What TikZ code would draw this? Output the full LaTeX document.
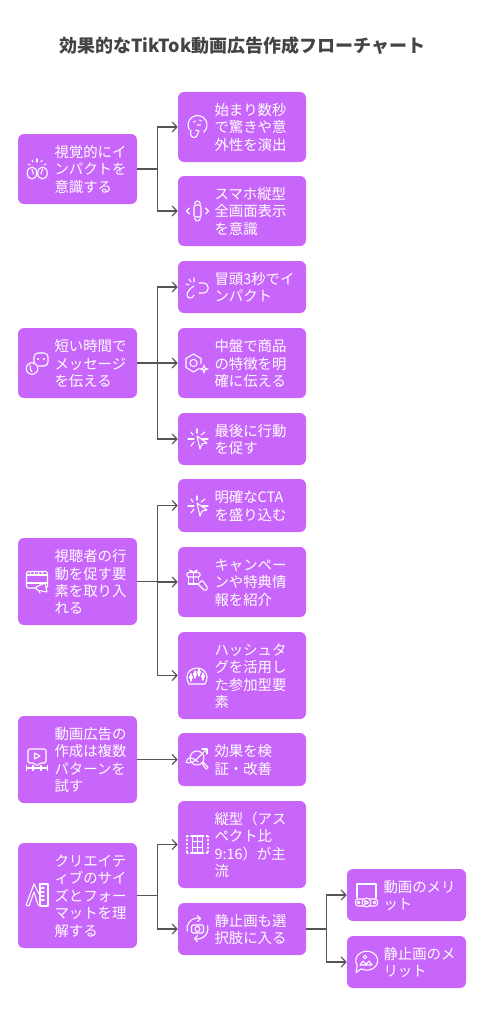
\documentclass[tikz,border=0pt]{standalone}
\usepackage{fontspec}
\setmainfont{Noto Sans CJK JP}
\usetikzlibrary{arrows.meta,calc,positioning}
\definecolor{BoxPurple}{HTML}{C866FB}
\definecolor{LineGray}{HTML}{555555}
\definecolor{TitleGray}{HTML}{444444}
\tikzset{
  flowbox/.style={fill=BoxPurple,rounded corners=4.5pt,inner sep=0pt},
  boxtext/.style={anchor=west,align=left,inner sep=0pt,text=white,
    font=\fontsize{10.8}{13.1}\selectfont},
  flowline/.style={LineGray,line width=0.9pt,-{Straight Barb[length=3.6pt,width=7.6pt]}},
  iconline/.style={white,line width=0.8pt,line cap=round,line join=round}
}

\begin{document}
\begin{tikzpicture}[x=0.75pt,y=-0.75pt]
    \useasboundingbox (0,0) rectangle (484,1024);
    \node[font=\fontsize{13.5}{16}\selectfont\bfseries,text=TitleGray] (title) at (242.3,45.7)
      {効果的なTikTok動画広告作成フローチャート};

    % boxes: name, x from/to, y from/to, text
    \foreach \nm/\xa/\xb/\ya/\yb/\lab in {
      sight/18/137/134/204/{視覚的にイ\\ンパクトを\\意識する},
      short/18/137/328/398/{短い時間で\\メッセージ\\を伝える},
      viewer/18/137/538/625/{視聴者の行\\動を促す要\\素を取り入\\れる},
      multi/18/137/716/803/{動画広告の\\作成は複数\\パターンを\\試す},
      size/18/137/843/948/{クリエイテ\\ィブのサイ\\ズとフォー\\マットを理\\解する},
      first/178/306/92/162/{始まり数秒\\で驚きや意\\外性を演出},
      phone/178/306/176/246/{スマホ縦型\\全画面表示\\を意識},
      open/178/306/261/313/{冒頭3秒でイ\\ンパクト},
      middle/178/306/328/398/{中盤で商品\\の特徴を明\\確に伝える},
      last/178/306/413/465/{最後に行動\\を促す},
      cta/178/306/479/532/{明確なCTA\\を盛り込む},
      campaign/178/306/547/617/{キャンペー\\ンや特典情\\報を紹介},
      hashtag/178/306/632/719/{ハッシュタ\\グを活用し\\た参加型要\\素},
      verify/178/306/733/786/{効果を検\\証・改善},
      tall/178/306/801/888/{縦型（アス\\ペクト比\\9:16）が主\\流},
      still/178/306/903/955/{静止画も選\\択肢に入る},
      movgood/347/466/869/921/{動画のメリ\\ット},
      stillgood/347/466/936/988/{静止画のメ\\リット}} {
      \node[flowbox,minimum width={(\xb-\xa)*0.75pt},minimum height={(\yb-\ya)*0.75pt}]
        (\nm) at ({(\xa+\xb)/2},{(\ya+\yb)/2}) {};
      \node[boxtext] (\nm-text) at ([xshift=27.4pt,yshift=-0.4pt]\nm.west) {\lab};
    }

    % connectors
    \foreach \from/\to in {sight/first,sight/phone,short/open,short/middle,short/last,
      viewer/cta,viewer/campaign,viewer/hashtag,multi/verify,size/tall,size/still,
      still/movgood,still/stillgood} {
      \draw[flowline] (\from.east) -- ++(20,0) |- (\to.west);
    }

    % icons, one scope each, centred in px
    \begin{scope}[shift={(37,170)}]
      \draw[iconline] (-5,3) ellipse [x radius=4.8,y radius=6];
      \draw[iconline] (5.5,3) ellipse [x radius=4.8,y radius=6];
      \draw[iconline] (-5,-1) -- (-3.5,4) (5.5,-1) -- (4,4);
      \foreach \xr/\yr/\xs/\ys in {0/-11/0/-8,-5/-10/-4/-8,5/-10/4/-8,-9/-6/-7/-5,9/-6/7/-5}
        \draw[iconline] (\xr,\yr) -- (\xs,\ys);
    \end{scope}
    \begin{scope}[shift={(197.5,127)}]
      \draw[iconline] (-8.2,2.75) arc (150:410:9.5);
      \draw[iconline] (-6.5,3) -- (-7,7) arc (180:0:3.5) -- (1.5,4) -- (-2,3);
      \draw[iconline] (-4,-5) -- (-2,-6) (2,-7) -- (4,-6) (0,-2) -- (3,-2);
    \end{scope}
    \begin{scope}[shift={(197.5,211)}]
      \draw[iconline,rounded corners=1.5pt] (-3.5,-6) rectangle (3.5,6);
      \draw[iconline] (-3,-7) .. controls (-2,-11) and (2,-11) .. (3,-7);
      \draw[iconline] (-3,7) .. controls (-2,11) and (2,11) .. (3,7);
      \draw[iconline] (-8,-3) -- (-11,0) -- (-8,3) (8,-3) -- (11,0) -- (8,3);
    \end{scope}
    \begin{scope}[shift={(197,288)}]
      \draw[iconline] (-3,-2) .. controls (-10,2) and (-12,8) .. (-8,10) .. controls (-6,11) and (-4,9) .. (-3,7);
      \draw[iconline] (2,-5) -- (6,-5) .. controls (13,-5) and (13,5) .. (6,5) -- (2,5);
      \draw[iconline] (-3,-10) -- (-3,-6) (-8,-9) -- (-6,-6) (-11,-4) -- (-8,-3);
    \end{scope}
    \begin{scope}[shift={(197,363)}]
      \draw[iconline] (2,5.5) -- (-3.5,9) -- (-11,4.5) -- (-11,-4.5) -- (-3.5,-9) -- (4,-4.5) -- (4,0.5);
      \draw[iconline] (-3.5,0) circle [radius=3.6];
      \draw[iconline] (7,2) .. controls (7.5,5.5) .. (11,6) .. controls (7.5,6.5) .. (7,10)
        .. controls (6.5,6.5) .. (3,6) .. controls (6.5,5.5) .. cycle;
    \end{scope}
    \foreach \xc/\yc in {197/439,197/506} {
      \begin{scope}[shift={(\xc,\yc)}]
        \draw[iconline] (0,-3) -- (10,4) -- (5,5) -- (3,10) -- cycle;
        \foreach \xr/\yr/\xs/\ys in {0/-10/0/-6,-6/-7/-4/-4,8/-7/4/-4,-9/0/-3/0,11/0/5/0,-6/7/-3/3}
          \draw[iconline] (\xr,\yr) -- (\xs,\ys);
      \end{scope}
    }
    \begin{scope}[shift={(197,582)}]
      \draw[iconline,rounded corners=1pt] (-10,-9.5) rectangle (3,-5);
      \draw[iconline] (-8.5,-5) -- (-8.5,2) -- (1,2) (1.5,-5) -- (1.5,-2) (-3.5,-9.5) -- (-3.5,2);
      \draw[iconline] (-3.5,-9.5) .. controls (-7,-14) and (-10,-11) .. (-3.5,-9.5)
        .. controls (0,-14) and (3,-11) .. (-3.5,-9.5);
      \draw[iconline,rounded corners=1pt] (1,2) -- (5,-2) -- (11,6) -- (8,9) -- cycle;
    \end{scope}
    \begin{scope}[shift={(197,675)}]
      \draw[iconline] (-10,2) arc (180:360:10 and 9);
      \draw[iconline] (-10,2) .. controls (-10,5) .. (-8,9) -- (8,9) .. controls (10,5) .. (10,2);
      \foreach \xb/\yb in {-6/2,-2/-1,2/-3,6/1} {
        \draw[iconline,rounded corners=0.8pt] (\xb-1.3,\yb-1.5) rectangle (\xb+1.3,\yb+2);
        \draw[iconline] (\xb,\yb-3) -- (\xb,\yb+4);
      }
    \end{scope}
    \begin{scope}[shift={(37,363)}]
      \draw[iconline,rounded corners=3pt] (-3,1) -- (-3,-10) -- (11,-10) -- (11,3) -- (1,3);
      \draw[iconline] (-5,5.5) circle [radius=5.8];
      \draw[iconline] (-7,2) .. controls (-7,5) and (-7,7) .. (-5,9);
      \foreach \xd in {1,7} \fill[white] (\xd,-4) circle [radius=1.2];
    \end{scope}
    \begin{scope}[shift={(37,581)}]
      \draw[iconline,rounded corners=1pt] (-10.5,-9.5) rectangle (10.5,7);
      \draw[iconline] (-10.5,-6) -- (10.5,-6) (-10.5,2) -- (10.5,2);
      \foreach \xd in {-7,-3,1,5} \draw[iconline] (\xd,-9.5) -- (\xd+1,-6);
      \draw[iconline,fill=BoxPurple] (-1,6) -- (8,2) -- (10,11) -- (0,9) -- cycle;
      \draw[iconline] (2,9.5) -- (3,12);
    \end{scope}
    \begin{scope}[shift={(37,760)}]
      \draw[iconline,rounded corners=1pt] (-9,3) -- (-9,-11) -- (9,-11) -- (9,3) -- (3,3) -- (0,6) -- (-3,3) -- cycle;
      \draw[iconline] (-2.5,-7) -- (3,-4) -- (-2.5,-1) -- cycle;
      \draw[iconline] (-10.5,8) -- (10.5,8);
      \foreach \xt in {-10.5,-4,4,10.5} \draw[iconline] (\xt,5.5) -- (\xt,10.5);
    \end{scope}
    \begin{scope}[shift={(197,760)}]
      \draw[iconline] (0,-2) circle [radius=7];
      \draw[iconline] (5,3) -- (9,9) -- (11,7) -- (6,2);
      \draw[iconline] (-11,2) .. controls (-4,6) and (2,-4) .. (10,-11);
      \draw[iconline] (5,-11) -- (10,-11) -- (10,-6);
      \draw[iconline] (-11,2) .. controls (-9,-4) and (-5,-3) .. (1,2);
    \end{scope}
    \begin{scope}[shift={(197.5,844.5)}]
      \draw[iconline,dotted,line width=1pt] (-10.5,-8.5) -- (-10.5,8.5) (10.5,-8.5) -- (10.5,8.5)
        (-10.5,-8.5) -- (-5,-8.5) (5,-8.5) -- (10.5,-8.5) (-10.5,8.5) -- (-5,8.5) (5,8.5) -- (10.5,8.5);
      \draw[iconline] (-5,-8.5) rectangle (5,8.5) (0,-8.5) -- (0,8.5);
      \draw[iconline] (-5,-3) -- (5,-3) (-5,3) -- (5,3);
    \end{scope}
    \begin{scope}[shift={(37,895)}]
      \draw[iconline] (-3,-11) -- (-11,10) -- (-8,11) -- (-3,-3) -- (1,10);
      \draw[iconline] (-3,-11) -- (2,-1);
      \draw[iconline] (3,-11) rectangle (11,11);
      \foreach \yt in {-7,-3,1,5} \draw[iconline] (3,\yt) -- (7,\yt);
    \end{scope}
    \begin{scope}[shift={(197.5,928.5)}]
      \draw[iconline,rounded corners=1pt] (-6,-3.5) rectangle (6,4.5);
      \draw[iconline] (0,0.5) circle [radius=2.5];
      \draw[iconline] (-10.14,2.7) arc (165:285:10.5);
      \draw[iconline] (10.14,-2.7) arc (-15:105:10.5);
      \draw[iconline] (0,-13) -- (3,-10) -- (0,-7) (0,13) -- (-3,10) -- (0,7);
    \end{scope}
    \begin{scope}[shift={(366,895)}]
      \draw[iconline] (-9,3) -- (-9,-11) -- (10,-11) -- (10,3);
      \draw[iconline,rounded corners=2pt] (-10.5,4) rectangle (11.5,11);
      \draw[iconline,fill=BoxPurple] (0.5,7.5) circle [radius=4.5];
      \draw[iconline] (-1,5.5) -- (2.5,7.5) -- (-1,9.5) -- cycle;
      \foreach \xd in {-7.5,8.5} \draw[iconline] (\xd,7.5) circle [radius=1.3];
    \end{scope}
    \begin{scope}[shift={(366,961)}]
      \draw[iconline] (-8.8,4.4) arc (150:480:11 and 9.5) -- (-10,11.5) -- cycle;
      \draw[iconline] (-1,-4) circle [radius=1.8];
      \draw[iconline] (-6,4) -- (-3,0) -- (0,3) -- (3,0) -- (6,4) -- cycle;
    \end{scope}
  \end{tikzpicture}
\end{document}
